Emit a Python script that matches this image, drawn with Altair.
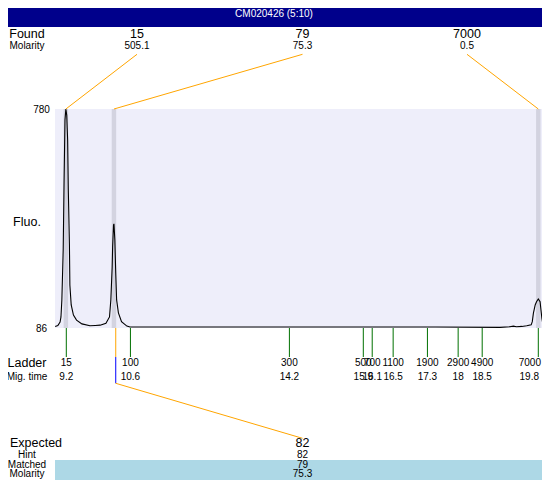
import altair as alt
import pandas as pd

TITLE = "CM020426 (5:10)"

# electropherogram trace (migration time s, fluorescence)
trace_time = [8.95, 9.01, 9.06, 9.08, 9.10, 9.13, 9.15, 9.17, 9.19, 9.21, 9.22, 9.23, 9.245,
              9.27, 9.28, 9.31, 9.36, 9.43, 9.55, 9.73, 9.85, 9.96, 10.09, 10.17, 10.20,
              10.23, 10.24, 10.26, 10.27, 10.29, 10.31, 10.33, 10.37, 10.44, 10.56, 10.63,
              12.0, 14.0, 16.0, 17.5, 18.94, 19.16, 19.24, 19.31, 19.43, 19.54, 19.64,
              19.665, 19.69, 19.73, 19.76, 19.80, 19.84, 19.86, 19.88, 19.90, 19.95,
              20.00, 20.06]
trace_fluo = [91, 94, 105, 121, 175, 333, 555, 745, 780, 760, 720, 682, 523,
              349, 222, 159, 127, 111, 99, 93, 94, 95, 101, 121, 175,
              279, 343, 412, 416, 365, 260, 175, 134, 106, 92, 89,
              89, 89, 89, 89, 88, 90, 92, 90, 91, 93, 96,
              106, 133, 159, 169, 178, 169, 143, 117, 101, 96,
              101, 90]

# ladder
ladder_size = [15, 100, 300, 500, 700, 1100, 1900, 2900, 4900, 7000]
ladder_time = [9.2, 10.64, 14.21, 15.87, 16.07, 16.54, 17.31, 18.0, 18.54, 19.8]

# found peaks
peak_size = ["15", "79", "7000"]
peak_molarity = ["505.1", "75.3", "0.5"]
peak_time = [9.19, 10.27, 19.8]

# expected
expected_size = "82"
expected_hint = "82"
expected_matched = "79"
expected_molarity = "75.3"
expected_time = 10.31

fluo_range = [86, 780]
time_range = [8.946, 20.062]
visible_time = [8.946, 19.883]

# ---- layout constants (pixels, relative to the plot area) ----
W, H = 487, 219
FONT = "Liberation Sans"
LAB_X = -28
FOUND_X = [82, 247.5, 412]
EXP_X = 247.5
EDGE_T = 19.6  # ladder labels beyond this time are right-aligned to the edge

xs = alt.Scale(domain=visible_time, nice=False, zero=False)
ys = alt.Scale(domain=fluo_range, nice=False, zero=False)
yaxis = alt.Axis(values=fluo_range, domain=False, ticks=False, grid=False, title=None,
                 labelAlign="center", labelPadding=14, labelFontSize=10, labelFont=FONT,
                 labelColor="black", labelFlush=False, labelOverlap=False)

one = pd.DataFrame({"k": [0]})
trace_df = pd.DataFrame({"time": trace_time, "fluo": trace_fluo})
ladder_df = pd.DataFrame({"size": ladder_size, "time": ladder_time})
peak_df = pd.DataFrame({"size": peak_size, "mol": peak_molarity, "time": peak_time})
exp_df = pd.DataFrame({"size": [expected_size], "hint": [expected_hint],
                       "matched": [expected_matched], "mol": [expected_molarity],
                       "time": [expected_time]})
bg_df = pd.DataFrame({"t0": [time_range[0]], "t1": [time_range[1]],
                      "f0": [fluo_range[0]], "f1": [fluo_range[1]]})

layers = []

# plot background
layers.append(alt.Chart(bg_df).mark_rect(color="#EEEEFA").encode(
    x=alt.X("t0:Q", scale=xs, axis=None), x2="t1:Q",
    y=alt.Y("f0:Q", scale=ys, axis=yaxis), y2="f1:Q"))

# peak bands
layers.append(alt.Chart(peak_df).transform_calculate(
    lo="datum.time - 0.05", hi="datum.time + 0.05").mark_rect(color="#D3D3E0").encode(
    x=alt.X("lo:Q", scale=xs, axis=None), x2="hi:Q",
    y=alt.value(0), y2=alt.value(H)))

# trace
layers.append(alt.Chart(trace_df).mark_line(color="black", strokeWidth=1.1).encode(
    x=alt.X("time:Q", scale=xs, axis=None),
    y=alt.Y("fluo:Q", scale=ys, axis=yaxis)))

# header
layers.append(alt.Chart(one).mark_rect(color="#00008B").encode(
    x=alt.value(-60), x2=alt.value(W + 10), y=alt.value(-115), y2=alt.value(-82)))
layers.append(alt.Chart(one).mark_text(color="white", fontSize=10, font=FONT,
                                       align="center", baseline="middle").encode(
    x=alt.value(219), y=alt.value(-95.2), text=alt.value(TITLE)))

# left labels
def label(txt, y, size, x=LAB_X):
    return alt.Chart(one).mark_text(color="black", fontSize=size, font=FONT,
                                    align="center", baseline="middle").encode(
        x=alt.value(x), y=alt.value(y), text=alt.value(txt))

layers += [label("Found", -74.7, 12.5), label("Molarity", -63, 10),
           label("Fluo.", 112.7, 12.5),
           label("Ladder", 254.3, 12.5), label("Mig. time", 267.7, 10),
           label("Expected", 334.3, 12.5, x=-19), label("Hint", 346, 10),
           label("Matched", 356, 10), label("Molarity", 365, 10)]

# found peaks: labels and connectors
for i in range(len(peak_size)):
    b = alt.Chart(peak_df.iloc[[i]])
    layers.append(b.mark_rule(color="#FFA500", strokeWidth=1).encode(
        x=alt.X("time:Q", scale=xs, axis=None), y=alt.value(0),
        x2=alt.value(FOUND_X[i]), y2=alt.value(-54.7)))
    layers.append(b.mark_text(fontSize=12.5, font=FONT, align="center", baseline="middle",
                              color="black").encode(
        x=alt.value(FOUND_X[i]), y=alt.value(-74.7), text="size:N"))
    layers.append(b.mark_text(fontSize=10, font=FONT, align="center", baseline="middle",
                              color="black").encode(
        x=alt.value(FOUND_X[i]), y=alt.value(-63), text="mol:N"))

# ladder
lb = alt.Chart(ladder_df)
layers.append(lb.mark_rule(color="#007000", strokeWidth=1).encode(
    x=alt.X("time:Q", scale=xs, axis=None), y=alt.value(H), y2=alt.value(248)))
inner = lb.transform_filter(f"datum.time < {EDGE_T}")
layers.append(inner.mark_text(fontSize=10, font=FONT, align="center", baseline="middle",
                              color="black").encode(
    x=alt.X("time:Q", scale=xs, axis=None), y=alt.value(253.7), text="size:N"))
layers.append(inner.mark_text(fontSize=10, font=FONT, align="center", baseline="middle",
                              color="black").encode(
    x=alt.X("time:Q", scale=xs, axis=None), y=alt.value(267.7),
    text=alt.Text("time:Q", format=".3~r")))
outer = lb.transform_filter(f"datum.time >= {EDGE_T}")
layers.append(outer.mark_text(fontSize=10, font=FONT, align="right", baseline="middle",
                              color="black").encode(
    x=alt.value(W - 1), y=alt.value(253.7), text="size:N"))
layers.append(outer.mark_text(fontSize=10, font=FONT, align="right", baseline="middle",
                              color="black").encode(
    x=alt.value(W - 3), y=alt.value(267.7), text=alt.Text("time:Q", format=".3~r")))

# expected marker
eb = alt.Chart(exp_df)
layers.append(eb.mark_rule(color="#FFA500", strokeWidth=1).encode(
    x=alt.X("time:Q", scale=xs, axis=None), y=alt.value(H), y2=alt.value(248)))
layers.append(eb.mark_rule(color="#0000FF", strokeWidth=1).encode(
    x=alt.X("time:Q", scale=xs, axis=None), y=alt.value(248), y2=alt.value(274.3)))
layers.append(eb.mark_rule(color="#FFA500", strokeWidth=1).encode(
    x=alt.X("time:Q", scale=xs, axis=None), y=alt.value(274.3),
    x2=alt.value(EXP_X), y2=alt.value(329.3)))

# matched band
layers.append(alt.Chart(one).mark_rect(color="#ADD8E6").encode(
    x=alt.value(0), x2=alt.value(W + 10), y=alt.value(351), y2=alt.value(372)))

for field, y, size in [("size", 334.3, 12.5), ("hint", 346, 10),
                       ("matched", 356, 10), ("mol", 365, 10)]:
    layers.append(eb.mark_text(fontSize=size, font=FONT, align="center",
                               baseline="middle", color="black").encode(
        x=alt.value(EXP_X), y=alt.value(y), text=f"{field}:N"))

chart = alt.layer(*layers).properties(
    width=W, height=H,
    autosize=alt.AutoSizeParams(type="none"),
    padding={"left": 47, "top": 101, "right": 0, "bottom": 152},
    background="white",
).configure_view(stroke=None)

chart.save("out.html", embed_options={"renderer": "svg", "actions": False})
